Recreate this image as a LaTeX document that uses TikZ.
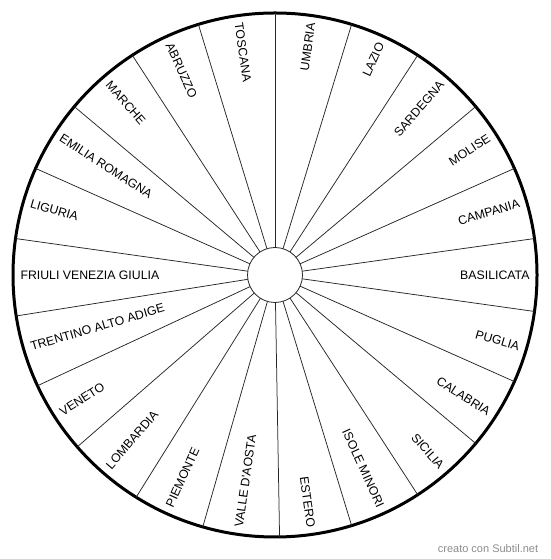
\documentclass[tikz,border=0pt]{standalone}
\usepackage{fontspec}
\setmainfont{Liberation Sans}
\usetikzlibrary{calc}
\begin{document}
\begin{tikzpicture}[x=1pt,y=1pt,
  rimstyle/.style={circle,draw=black,line width=3pt,minimum size=524pt,inner sep=0pt,outer sep=0pt},
  hubstyle/.style={circle,draw=black!85,fill=white,line width=0.8pt,minimum size=55pt,inner sep=0pt,outer sep=0pt},
  divider/.style={draw=black!85,line width=0.75pt},
  lab/.style={inner sep=0pt,outer sep=0pt,font=\fontsize{12.3}{14}\selectfont},
  credit/.style={inner sep=0pt,text=black!45,font=\fontsize{11}{13}\selectfont}]
\useasboundingbox (0,0) rectangle (550,559);
\coordinate (c) at (275,284);
\node[rimstyle] (rim) at (c) {};
\node[hubstyle] (hub) at (c) {};
\foreach \k in {0,...,21} {
  \pgfmathsetmacro\d{90-16.3636364*\k}
  \draw[divider] (hub.\d) -- (rim.\d);
}
\foreach \name [count=\i from 0] in {UMBRIA,LAZIO,SARDEGNA,MOLISE,CAMPANIA,BASILICATA,PUGLIA,CALABRIA,SICILIA,ISOLE MINORI,ESTERO,VALLE D\textquotesingle AOSTA,PIEMONTE,LOMBARDIA,VENETO,TRENTINO ALTO ADIGE,FRIULI VENEZIA GIULIA,LIGURIA,EMILIA ROMAGNA,MARCHE,ABRUZZO,TOSCANA} {
  \pgfmathsetmacro\a{81.8181818-16.3636364*\i}
  \pgfmathtruncatemacro\rh{cos(\a)>0}
  \ifnum\rh=1
    \node[lab,anchor=east,rotate=\a] (l\i) at ($(c)+(\a:254.5)$) {\name};
  \else
    \pgfmathsetmacro\b{\a+180}
    \node[lab,anchor=west,rotate=\b] (l\i) at ($(c)+(\a:254.5)$) {\name};
  \fi
}
\node[credit] (cred) at (488,10) {creato con Subtil.net};
\end{tikzpicture}
\end{document}
